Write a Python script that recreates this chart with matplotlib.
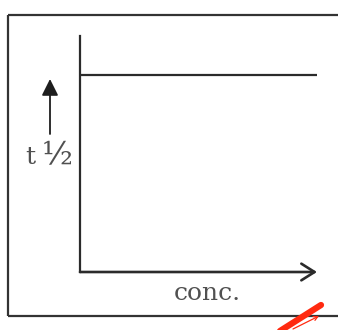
import matplotlib
matplotlib.use("Agg")
import matplotlib.pyplot as plt
from matplotlib.lines import Line2D

# schematic zero-order style: half-life independent of concentration
conc = [0.0, 1.0]
t_half = [1.0, 1.0]
x_label = "conc."
y_label_t = "t"
y_label_half = "\u00bd"

W, H = 338, 330
fig = plt.figure(figsize=(W / 100, H / 100), dpi=100)
fig.patch.set_facecolor("white")

def fx(px):
    return px / W

def fy(py):
    return 1 - py / H

ink = "#2b2b2b"
ax = fig.add_axes([fx(80), fy(272), fx(317) - fx(80), fy(36) - fy(272)])
ax.set_xlim(0, 1)
ax.set_ylim(0, 1.2)
ax.plot(conc, t_half, color=ink, lw=1.6, solid_capstyle="butt")

for s in ["top", "right", "bottom"]:
    ax.spines[s].set_visible(False)
ax.spines["left"].set_color(ink)
ax.spines["left"].set_linewidth(1.6)
ax.set_xticks([])
ax.set_yticks([])
ax.patch.set_alpha(0)

# x axis with open arrow head
ax.annotate("", xy=(1.0, 0), xytext=(0, 0), xycoords="axes fraction",
            arrowprops=dict(arrowstyle="->,head_length=0.95,head_width=0.6",
                            color=ink, lw=1.9, shrinkA=0, shrinkB=0))

# upward arrow beside the y label
fig.add_artist(plt.Annotation("", xy=(fx(50), fy(79)), xytext=(fx(50), fy(134)),
                              xycoords="figure fraction",
                              arrowprops=dict(arrowstyle="-|>,head_length=1.0,head_width=0.5",
                                              color="#1e1e1e", lw=1.3,
                                              shrinkA=0, shrinkB=0)))

fig.text(fx(30.5), fy(158), y_label_t, ha="center", va="center",
         family="DejaVu Serif", fontsize=18, color="#505050")
fig.text(fx(57), fy(156), y_label_half, ha="center", va="center",
         family="DejaVu Serif", fontsize=23, color="#505050")
fig.text(fx(207), fy(294), x_label, ha="center", va="center",
         family="DejaVu Serif", fontsize=18, color="#505050")

# outer frame (right side runs off the image)
frame = dict(color="#333333", lw=1.6, solid_capstyle="butt")
fig.add_artist(Line2D([fx(8), fx(340)], [fy(15), fy(15)], **frame))
fig.add_artist(Line2D([fx(8), fx(8)], [fy(15), fy(316)], **frame))
fig.add_artist(Line2D([fx(8), fx(340)], [fy(316), fy(316)], **frame))

# red pen mark in the corner
fig.add_artist(Line2D([fx(280), fx(321)], [fy(331), fy(305)],
                      color="#ff2a10", lw=4.5, solid_capstyle="round"))
fig.add_artist(plt.Annotation("", xy=(fx(319), fy(316)), xytext=(fx(293), fy(329)),
                              xycoords="figure fraction",
                              arrowprops=dict(arrowstyle="->,head_length=0.3,head_width=0.15",
                                              color="#ff2a10", lw=0.9,
                                              shrinkA=0, shrinkB=0)))

fig.savefig("out.png", dpi=100)
